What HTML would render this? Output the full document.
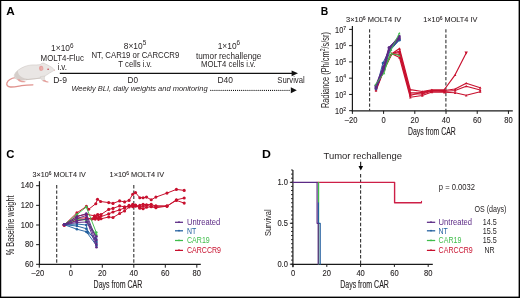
<!DOCTYPE html><html><head><meta charset="utf-8"><title>Figure</title><style>
html,body{margin:0;padding:0;background:#fff;width:520px;height:298px;overflow:hidden}
svg{display:block;will-change:transform}
text{font-family:"Liberation Sans",sans-serif}
</style></head><body>
<svg width="520" height="298" viewBox="0 0 520 298">
<rect x="0" y="0" width="520" height="298" fill="#000"/>
<rect x="1.25" y="1.0" width="517.35" height="295.6" fill="#fff"/>
<text x="6.3" y="14.6" font-size="11.3" text-anchor="start" font-weight="bold" font-style="normal" fill="#000" textLength="8.5" lengthAdjust="spacingAndGlyphs" >A</text>
<g>
<path d="M15.4,77.7 C11.5,78.2 8,80.4 6.9,83.1 C6.2,85.2 7.8,86.8 10.5,87.0 C14,87.2 18,86.2 21.5,85.6 C25.5,85.0 29.5,84.8 32.9,84.8" fill="none" stroke="#e0928d" stroke-width="1.3" stroke-linecap="round"/>
<path d="M54.6,70.0 C53,68.2 51.5,67 50.2,66.4 C48.5,65.4 47,64.6 45.9,64.3 C44.8,63.4 43.8,63.0 42.7,63.1 C41.8,63.2 41.2,63.7 40.6,64.3 C39,65.0 37,65.0 34,64.9 C30.5,64.9 27.5,65.4 24.5,66.6 C20,68.4 16.4,71.0 14.6,74.2 C13.8,76.2 14.4,78 16.2,79 C19,80.4 23,80.2 27,79.6 C31,79.1 35,78.8 38.8,78.4 C41,78.1 42.6,77.7 43.6,77.0 C45.6,75.6 47.6,74.4 49.3,73.2 C51.2,72.1 53,71.1 54.6,70.0 Z" fill="#e9e6e4" stroke="#cbc4c0" stroke-width="0.55"/>
<path d="M14.7,75 C14.5,77.6 16.5,79.4 19.5,80 C23.5,80.6 28,80 32,79.3 C28.5,79.2 25,78.6 22,77.2 C19.5,76 17.6,73.4 17.9,70.6 C16.3,71.8 15.1,73.3 14.7,75 Z" fill="#d5ceca"/>
<path d="M26,79.6 C31,79.2 35.5,78.8 40.5,78.0" fill="none" stroke="#c9c1bc" stroke-width="0.7"/>
<path d="M17,79.2 C18,80.8 19.6,81.8 21.8,82.2 C23.2,82.4 24.6,82.3 25.7,82.1 C25.7,81.5 24.8,81.1 23.6,81.0 C21.8,80.8 20.4,80.2 19.6,79.2 Z" fill="#e5a09c"/>
<path d="M40.4,76.6 C40.6,78.8 41.6,80.4 43.2,81.2 L45.4,80.8 C44.4,79.8 44.2,78.4 44.8,76.0 Z" fill="#e4e0dd" stroke="#cbc4c0" stroke-width="0.4"/>
<path d="M42.4,80.3 C43.6,81.6 45.4,82.4 47.5,82.6 C48.6,82.7 48.9,81.9 48.1,81.5 C46.9,81.0 45.7,80.7 44.9,79.9 Z" fill="#e5a09c"/>
<ellipse cx="41.2" cy="68.3" rx="2.2" ry="2.6" fill="#e6a29f" transform="rotate(-10 41.2 68.3)"/>
<ellipse cx="41.6" cy="68.6" rx="1.1" ry="1.6" fill="#eab2af" transform="rotate(-10 41.2 68.3)"/>
<circle cx="48.10" cy="69.20" r="0.78" fill="#c0303c"/>
<circle cx="54.40" cy="70.20" r="0.55" fill="#e8b0ae"/>
</g>
<text x="62.3" y="50.9" font-size="8.4" text-anchor="middle" font-weight="normal" font-style="normal" fill="#231f20" >1×10<tspan dy="-3.2" font-size="6.4">6</tspan><tspan dy="3.2"></tspan></text>
<text x="40.6" y="60.5" font-size="8.4" text-anchor="start" font-weight="normal" font-style="normal" fill="#231f20" textLength="43.4" lengthAdjust="spacingAndGlyphs" >MOLT4-Fluc</text>
<text x="57.4" y="69.5" font-size="8.4" text-anchor="start" font-weight="normal" font-style="normal" fill="#231f20" textLength="9.6" lengthAdjust="spacingAndGlyphs" >i.v.</text>
<text x="135.0" y="48.6" font-size="8.4" text-anchor="middle" font-weight="normal" font-style="normal" fill="#231f20" >8×10<tspan dy="-3.2" font-size="6.4">5</tspan><tspan dy="3.2"></tspan></text>
<text x="91.5" y="58.3" font-size="8.4" text-anchor="start" font-weight="normal" font-style="normal" fill="#231f20" textLength="87.8" lengthAdjust="spacingAndGlyphs" >NT, CAR19 or CARCCR9</text>
<text x="118.3" y="67.2" font-size="8.4" text-anchor="start" font-weight="normal" font-style="normal" fill="#231f20" textLength="33.7" lengthAdjust="spacingAndGlyphs" >T cells i.v.</text>
<text x="228.9" y="48.6" font-size="8.4" text-anchor="middle" font-weight="normal" font-style="normal" fill="#231f20" >1×10<tspan dy="-3.2" font-size="6.4">6</tspan><tspan dy="3.2"></tspan></text>
<text x="196.0" y="58.5" font-size="8.4" text-anchor="start" font-weight="normal" font-style="normal" fill="#231f20" textLength="65.3" lengthAdjust="spacingAndGlyphs" >tumor rechallenge</text>
<text x="201.1" y="67.2" font-size="8.4" text-anchor="start" font-weight="normal" font-style="normal" fill="#231f20" textLength="54.4" lengthAdjust="spacingAndGlyphs" >MOLT4 cells i.v.</text>
<line x1="59.8" y1="73.3" x2="292.5" y2="73.3" stroke="#111" stroke-width="1.3" />
<path d="M291.6,70.4 L298.0,73.3 L291.6,76.2 Z" fill="#111"/>
<text x="53.2" y="82.7" font-size="8.4" text-anchor="start" font-weight="normal" font-style="normal" fill="#231f20" textLength="13.8" lengthAdjust="spacingAndGlyphs" >D-9</text>
<text x="127.5" y="82.8" font-size="8.4" text-anchor="start" font-weight="normal" font-style="normal" fill="#231f20" textLength="10.5" lengthAdjust="spacingAndGlyphs" >D0</text>
<text x="217.4" y="82.7" font-size="8.4" text-anchor="start" font-weight="normal" font-style="normal" fill="#231f20" textLength="15.5" lengthAdjust="spacingAndGlyphs" >D40</text>
<text x="277.3" y="82.7" font-size="8.4" text-anchor="start" font-weight="normal" font-style="normal" fill="#231f20" textLength="27.4" lengthAdjust="spacingAndGlyphs" >Survival</text>
<text x="71.4" y="91.4" font-size="7.5" text-anchor="start" font-weight="normal" font-style="italic" fill="#231f20" textLength="136.2" lengthAdjust="spacingAndGlyphs" >Weekly BLI, daily weights and monitoring</text>
<line x1="210.8" y1="90.4" x2="291.0" y2="90.4" stroke="#111" stroke-width="1.15" stroke-dasharray="0.01 2.05" stroke-linecap="round"/>
<path d="M290.8,87.3 L296.8,90.3 L290.8,93.3 Z" fill="#111"/>
<text x="320.7" y="14.8" font-size="11.4" text-anchor="start" font-weight="bold" font-style="normal" fill="#000" textLength="7.5" lengthAdjust="spacingAndGlyphs" >B</text>
<line x1="352.4" y1="26.0" x2="352.4" y2="111.39999999999999" stroke="#1a1a1a" stroke-width="1.2" />
<line x1="351.79999999999995" y1="110.8" x2="512.8" y2="110.8" stroke="#1a1a1a" stroke-width="1.2" />
<line x1="349.1" y1="110.7" x2="352.4" y2="110.7" stroke="#1a1a1a" stroke-width="1.0" />
<text x="335.1" y="114.10000000000001" font-size="8.8" text-anchor="start" font-weight="normal" font-style="normal" fill="#231f20" textLength="11.0" lengthAdjust="spacingAndGlyphs"  stroke="#231f20" stroke-width="0.12">10<tspan dy="-3.2" font-size="6.0">2</tspan></text>
<line x1="349.1" y1="94.44" x2="352.4" y2="94.44" stroke="#1a1a1a" stroke-width="1.0" />
<text x="335.1" y="97.84" font-size="8.8" text-anchor="start" font-weight="normal" font-style="normal" fill="#231f20" textLength="11.0" lengthAdjust="spacingAndGlyphs"  stroke="#231f20" stroke-width="0.12">10<tspan dy="-3.2" font-size="6.0">3</tspan></text>
<line x1="349.1" y1="78.18" x2="352.4" y2="78.18" stroke="#1a1a1a" stroke-width="1.0" />
<text x="335.1" y="81.58000000000001" font-size="8.8" text-anchor="start" font-weight="normal" font-style="normal" fill="#231f20" textLength="11.0" lengthAdjust="spacingAndGlyphs"  stroke="#231f20" stroke-width="0.12">10<tspan dy="-3.2" font-size="6.0">4</tspan></text>
<line x1="349.1" y1="61.92" x2="352.4" y2="61.92" stroke="#1a1a1a" stroke-width="1.0" />
<text x="335.1" y="65.32000000000001" font-size="8.8" text-anchor="start" font-weight="normal" font-style="normal" fill="#231f20" textLength="11.0" lengthAdjust="spacingAndGlyphs"  stroke="#231f20" stroke-width="0.12">10<tspan dy="-3.2" font-size="6.0">5</tspan></text>
<line x1="349.1" y1="45.66" x2="352.4" y2="45.66" stroke="#1a1a1a" stroke-width="1.0" />
<text x="335.1" y="49.059999999999995" font-size="8.8" text-anchor="start" font-weight="normal" font-style="normal" fill="#231f20" textLength="11.0" lengthAdjust="spacingAndGlyphs"  stroke="#231f20" stroke-width="0.12">10<tspan dy="-3.2" font-size="6.0">6</tspan></text>
<line x1="349.1" y1="29.39999999999999" x2="352.4" y2="29.39999999999999" stroke="#1a1a1a" stroke-width="1.0" />
<text x="335.1" y="32.79999999999999" font-size="8.8" text-anchor="start" font-weight="normal" font-style="normal" fill="#231f20" textLength="11.0" lengthAdjust="spacingAndGlyphs"  stroke="#231f20" stroke-width="0.12">10<tspan dy="-3.2" font-size="6.0">7</tspan></text>
<line x1="352.39000000000004" y1="110.8" x2="352.39000000000004" y2="113.9" stroke="#1a1a1a" stroke-width="1.0" />
<text x="351.09000000000003" y="122.8" font-size="8.8" text-anchor="middle" font-weight="normal" font-style="normal" fill="#231f20" textLength="12.63" lengthAdjust="spacingAndGlyphs"  stroke="#231f20" stroke-width="0.12">–20</text>
<line x1="383.6" y1="110.8" x2="383.6" y2="113.9" stroke="#1a1a1a" stroke-width="1.0" />
<text x="383.6" y="122.8" font-size="8.8" text-anchor="middle" font-weight="normal" font-style="normal" fill="#231f20" textLength="4.21" lengthAdjust="spacingAndGlyphs"  stroke="#231f20" stroke-width="0.12">0</text>
<line x1="414.81" y1="110.8" x2="414.81" y2="113.9" stroke="#1a1a1a" stroke-width="1.0" />
<text x="414.81" y="122.8" font-size="8.8" text-anchor="middle" font-weight="normal" font-style="normal" fill="#231f20" textLength="8.42" lengthAdjust="spacingAndGlyphs"  stroke="#231f20" stroke-width="0.12">20</text>
<line x1="446.02000000000004" y1="110.8" x2="446.02000000000004" y2="113.9" stroke="#1a1a1a" stroke-width="1.0" />
<text x="446.02000000000004" y="122.8" font-size="8.8" text-anchor="middle" font-weight="normal" font-style="normal" fill="#231f20" textLength="8.42" lengthAdjust="spacingAndGlyphs"  stroke="#231f20" stroke-width="0.12">40</text>
<line x1="477.23" y1="110.8" x2="477.23" y2="113.9" stroke="#1a1a1a" stroke-width="1.0" />
<text x="477.23" y="122.8" font-size="8.8" text-anchor="middle" font-weight="normal" font-style="normal" fill="#231f20" textLength="8.42" lengthAdjust="spacingAndGlyphs"  stroke="#231f20" stroke-width="0.12">60</text>
<line x1="508.44000000000005" y1="110.8" x2="508.44000000000005" y2="113.9" stroke="#1a1a1a" stroke-width="1.0" />
<text x="508.44000000000005" y="122.8" font-size="8.8" text-anchor="middle" font-weight="normal" font-style="normal" fill="#231f20" textLength="8.42" lengthAdjust="spacingAndGlyphs"  stroke="#231f20" stroke-width="0.12">80</text>
<text x="408.0" y="135.3" font-size="10.8" text-anchor="start" font-weight="normal" font-style="normal" fill="#231f20" textLength="47.8" lengthAdjust="spacingAndGlyphs"  stroke="#231f20" stroke-width="0.12">Days from CAR</text>
<text transform="translate(328.9,70.1) rotate(-90)" font-size="10" text-anchor="middle" fill="#231f20" textLength="76" lengthAdjust="spacingAndGlyphs">Radiance (Ph/cm<tspan dy="-3.6" font-size="6.8">2</tspan><tspan dy="3.6">/s/sr)</tspan></text>
<text x="346.0" y="22.3" font-size="7.4" text-anchor="start" font-weight="normal" font-style="normal" fill="#231f20" textLength="55.3" lengthAdjust="spacingAndGlyphs"  stroke="#231f20" stroke-width="0.08">3×10<tspan dy="-2.6" font-size="5">6</tspan><tspan dy="2.6"> MOLT4 IV</tspan></text>
<text x="423.2" y="22.3" font-size="7.4" text-anchor="start" font-weight="normal" font-style="normal" fill="#231f20" textLength="54.2" lengthAdjust="spacingAndGlyphs"  stroke="#231f20" stroke-width="0.08">1×10<tspan dy="-2.6" font-size="5">6</tspan><tspan dy="2.6"> MOLT4 IV</tspan></text>
<line x1="369.6" y1="29.2" x2="369.6" y2="110.8" stroke="#333" stroke-width="1.1" stroke-dasharray="3.4 1.9"/>
<line x1="445.9" y1="29.2" x2="445.9" y2="110.8" stroke="#333" stroke-width="1.1" stroke-dasharray="3.4 1.9"/>
<polyline points="376.00,90.50 384.00,70.00 391.80,53.70 399.50,48.50 410.30,89.60 422.30,91.50 431.90,89.80 444.40,89.50 455.10,74.80 466.20,53.00" fill="none" stroke="#c8102e" stroke-width="1.15" stroke-linejoin="round" stroke-linecap="round" />
<polyline points="376.00,89.00 384.00,69.00 391.80,53.70 399.50,51.00 410.30,92.50 422.30,93.00 431.90,90.50 444.40,90.50 455.10,89.00 466.20,83.20 480.20,87.70" fill="none" stroke="#c8102e" stroke-width="1.15" stroke-linejoin="round" stroke-linecap="round" />
<polyline points="376.00,88.00 384.00,68.00 391.80,53.70 399.50,54.50 410.30,94.00 422.30,94.00 431.90,91.00 444.40,91.50 455.10,90.50 466.20,86.20 480.20,90.00" fill="none" stroke="#c8102e" stroke-width="1.15" stroke-linejoin="round" stroke-linecap="round" />
<polyline points="376.00,87.00 384.00,67.00 391.80,53.70 399.50,57.50 410.30,97.30 422.30,95.50 431.90,92.00 444.40,92.30 455.10,92.80 466.20,95.30 480.20,91.70" fill="none" stroke="#c8102e" stroke-width="1.15" stroke-linejoin="round" stroke-linecap="round" />
<polyline points="376.00,89.00 384.00,69.00 391.80,53.70 399.50,52.50 410.30,95.50 422.30,92.00 431.90,90.50 444.40,91.00" fill="none" stroke="#c8102e" stroke-width="1.15" stroke-linejoin="round" stroke-linecap="round" />
<path d="M374.70,91.67 L377.30,91.67 L376.00,89.33Z" fill="#c8102e"/>
<path d="M382.70,71.17 L385.30,71.17 L384.00,68.83Z" fill="#c8102e"/>
<path d="M390.50,54.87 L393.10,54.87 L391.80,52.53Z" fill="#c8102e"/>
<path d="M398.20,49.67 L400.80,49.67 L399.50,47.33Z" fill="#c8102e"/>
<path d="M409.00,90.77 L411.60,90.77 L410.30,88.43Z" fill="#c8102e"/>
<path d="M421.00,92.67 L423.60,92.67 L422.30,90.33Z" fill="#c8102e"/>
<path d="M430.60,90.97 L433.20,90.97 L431.90,88.63Z" fill="#c8102e"/>
<path d="M443.10,90.67 L445.70,90.67 L444.40,88.33Z" fill="#c8102e"/>
<path d="M453.80,75.97 L456.40,75.97 L455.10,73.63Z" fill="#c8102e"/>
<path d="M464.50,51.47 L467.90,51.47 L466.20,54.53Z" fill="#c8102e"/>
<path d="M374.70,90.17 L377.30,90.17 L376.00,87.83Z" fill="#c8102e"/>
<path d="M382.70,70.17 L385.30,70.17 L384.00,67.83Z" fill="#c8102e"/>
<path d="M390.50,54.87 L393.10,54.87 L391.80,52.53Z" fill="#c8102e"/>
<path d="M398.20,52.17 L400.80,52.17 L399.50,49.83Z" fill="#c8102e"/>
<path d="M409.00,93.67 L411.60,93.67 L410.30,91.33Z" fill="#c8102e"/>
<path d="M421.00,94.17 L423.60,94.17 L422.30,91.83Z" fill="#c8102e"/>
<path d="M430.60,91.67 L433.20,91.67 L431.90,89.33Z" fill="#c8102e"/>
<path d="M443.10,91.67 L445.70,91.67 L444.40,89.33Z" fill="#c8102e"/>
<path d="M453.80,90.17 L456.40,90.17 L455.10,87.83Z" fill="#c8102e"/>
<path d="M464.90,84.37 L467.50,84.37 L466.20,82.03Z" fill="#c8102e"/>
<path d="M478.90,88.87 L481.50,88.87 L480.20,86.53Z" fill="#c8102e"/>
<path d="M374.70,89.17 L377.30,89.17 L376.00,86.83Z" fill="#c8102e"/>
<path d="M382.70,69.17 L385.30,69.17 L384.00,66.83Z" fill="#c8102e"/>
<path d="M390.50,54.87 L393.10,54.87 L391.80,52.53Z" fill="#c8102e"/>
<path d="M398.20,55.67 L400.80,55.67 L399.50,53.33Z" fill="#c8102e"/>
<path d="M409.00,95.17 L411.60,95.17 L410.30,92.83Z" fill="#c8102e"/>
<path d="M421.00,95.17 L423.60,95.17 L422.30,92.83Z" fill="#c8102e"/>
<path d="M430.60,92.17 L433.20,92.17 L431.90,89.83Z" fill="#c8102e"/>
<path d="M443.10,92.67 L445.70,92.67 L444.40,90.33Z" fill="#c8102e"/>
<path d="M453.80,91.67 L456.40,91.67 L455.10,89.33Z" fill="#c8102e"/>
<path d="M464.90,87.37 L467.50,87.37 L466.20,85.03Z" fill="#c8102e"/>
<path d="M478.90,91.17 L481.50,91.17 L480.20,88.83Z" fill="#c8102e"/>
<path d="M374.70,88.17 L377.30,88.17 L376.00,85.83Z" fill="#c8102e"/>
<path d="M382.70,68.17 L385.30,68.17 L384.00,65.83Z" fill="#c8102e"/>
<path d="M390.50,54.87 L393.10,54.87 L391.80,52.53Z" fill="#c8102e"/>
<path d="M398.20,58.67 L400.80,58.67 L399.50,56.33Z" fill="#c8102e"/>
<path d="M409.00,98.47 L411.60,98.47 L410.30,96.13Z" fill="#c8102e"/>
<path d="M421.00,96.67 L423.60,96.67 L422.30,94.33Z" fill="#c8102e"/>
<path d="M430.60,93.17 L433.20,93.17 L431.90,90.83Z" fill="#c8102e"/>
<path d="M443.10,93.47 L445.70,93.47 L444.40,91.13Z" fill="#c8102e"/>
<path d="M453.80,93.97 L456.40,93.97 L455.10,91.63Z" fill="#c8102e"/>
<path d="M464.90,96.47 L467.50,96.47 L466.20,94.13Z" fill="#c8102e"/>
<path d="M478.90,92.87 L481.50,92.87 L480.20,90.53Z" fill="#c8102e"/>
<path d="M374.70,90.17 L377.30,90.17 L376.00,87.83Z" fill="#c8102e"/>
<path d="M382.70,70.17 L385.30,70.17 L384.00,67.83Z" fill="#c8102e"/>
<path d="M390.50,54.87 L393.10,54.87 L391.80,52.53Z" fill="#c8102e"/>
<path d="M398.20,53.67 L400.80,53.67 L399.50,51.33Z" fill="#c8102e"/>
<path d="M409.00,96.67 L411.60,96.67 L410.30,94.33Z" fill="#c8102e"/>
<path d="M421.00,93.17 L423.60,93.17 L422.30,90.83Z" fill="#c8102e"/>
<path d="M430.60,91.67 L433.20,91.67 L431.90,89.33Z" fill="#c8102e"/>
<path d="M443.10,92.17 L445.70,92.17 L444.40,89.83Z" fill="#c8102e"/>
<polyline points="376.00,86.00 384.00,70.00 391.80,53.70 399.50,55.50" fill="none" stroke="#3fbd4b" stroke-width="1.0" stroke-linejoin="round" stroke-linecap="round" />
<path d="M374.80,87.08 L377.20,87.08 L376.00,84.92Z" fill="#3fbd4b"/>
<path d="M382.80,71.08 L385.20,71.08 L384.00,68.92Z" fill="#3fbd4b"/>
<path d="M390.60,54.78 L393.00,54.78 L391.80,52.62Z" fill="#3fbd4b"/>
<path d="M398.30,56.58 L400.70,56.58 L399.50,54.42Z" fill="#3fbd4b"/>
<polyline points="376.00,89.00 382.90,63.00 389.60,49.60 399.40,39.50" fill="none" stroke="#23609f" stroke-width="1.0" stroke-linejoin="round" stroke-linecap="round" />
<polyline points="376.00,88.00 384.00,69.50 390.20,50.20 399.40,40.20" fill="none" stroke="#23609f" stroke-width="1.0" stroke-linejoin="round" stroke-linecap="round" />
<circle cx="376.00" cy="89.00" r="1.3" fill="#23609f"/>
<circle cx="382.90" cy="63.00" r="1.3" fill="#23609f"/>
<circle cx="389.60" cy="49.60" r="1.3" fill="#23609f"/>
<circle cx="399.40" cy="39.50" r="1.3" fill="#23609f"/>
<circle cx="376.00" cy="88.00" r="1.3" fill="#23609f"/>
<circle cx="384.00" cy="69.50" r="1.3" fill="#23609f"/>
<circle cx="390.20" cy="50.20" r="1.3" fill="#23609f"/>
<circle cx="399.40" cy="40.20" r="1.3" fill="#23609f"/>
<polyline points="376.00,86.50 383.50,67.50 389.10,47.80 399.30,37.00" fill="none" stroke="#5c2a85" stroke-width="1.2" stroke-linejoin="round" stroke-linecap="round" />
<polyline points="376.00,87.50 383.70,68.30 389.30,48.30 399.30,36.00" fill="none" stroke="#5c2a85" stroke-width="1.2" stroke-linejoin="round" stroke-linecap="round" />
<polyline points="375.80,85.50 383.30,66.80 389.00,47.50 399.30,38.00" fill="none" stroke="#5c2a85" stroke-width="1.2" stroke-linejoin="round" stroke-linecap="round" />
<polyline points="376.00,88.50 383.90,69.20 389.50,48.80 399.30,38.80" fill="none" stroke="#5c2a85" stroke-width="1.2" stroke-linejoin="round" stroke-linecap="round" />
<circle cx="376.00" cy="86.50" r="1.35" fill="#5c2a85"/>
<circle cx="383.50" cy="67.50" r="1.35" fill="#5c2a85"/>
<circle cx="389.10" cy="47.80" r="1.35" fill="#5c2a85"/>
<circle cx="399.30" cy="37.00" r="1.35" fill="#5c2a85"/>
<circle cx="376.00" cy="87.50" r="1.35" fill="#5c2a85"/>
<circle cx="383.70" cy="68.30" r="1.35" fill="#5c2a85"/>
<circle cx="389.30" cy="48.30" r="1.35" fill="#5c2a85"/>
<circle cx="399.30" cy="36.00" r="1.35" fill="#5c2a85"/>
<circle cx="375.80" cy="85.50" r="1.35" fill="#5c2a85"/>
<circle cx="383.30" cy="66.80" r="1.35" fill="#5c2a85"/>
<circle cx="389.00" cy="47.50" r="1.35" fill="#5c2a85"/>
<circle cx="399.30" cy="38.00" r="1.35" fill="#5c2a85"/>
<circle cx="376.00" cy="88.50" r="1.35" fill="#5c2a85"/>
<circle cx="383.90" cy="69.20" r="1.35" fill="#5c2a85"/>
<circle cx="389.50" cy="48.80" r="1.35" fill="#5c2a85"/>
<circle cx="399.30" cy="38.80" r="1.35" fill="#5c2a85"/>
<polyline points="375.50,84.50 384.10,73.10 391.20,49.50 399.30,33.20" fill="none" stroke="#3fbd4b" stroke-width="0.9" stroke-linejoin="round" stroke-linecap="round" />
<path d="M374.30,85.58 L376.70,85.58 L375.50,83.42Z" fill="#3fbd4b"/>
<path d="M382.90,74.18 L385.30,74.18 L384.10,72.02Z" fill="#3fbd4b"/>
<path d="M390.00,50.58 L392.40,50.58 L391.20,48.42Z" fill="#3fbd4b"/>
<path d="M398.10,34.28 L400.50,34.28 L399.30,32.12Z" fill="#3fbd4b"/>
<text x="6.2" y="158.0" font-size="11.7" text-anchor="start" font-weight="bold" font-style="normal" fill="#000" textLength="8.2" lengthAdjust="spacingAndGlyphs" >C</text>
<line x1="39.45" y1="181.2" x2="39.45" y2="265.05" stroke="#1a1a1a" stroke-width="1.2" />
<line x1="38.85" y1="264.45" x2="200.8" y2="264.45" stroke="#1a1a1a" stroke-width="1.2" />
<line x1="36.1" y1="264.3" x2="39.45" y2="264.3" stroke="#1a1a1a" stroke-width="1.0" />
<text x="33.5" y="267.05" font-size="8.8" text-anchor="end" font-weight="normal" font-style="normal" fill="#231f20" textLength="8.42" lengthAdjust="spacingAndGlyphs"  stroke="#231f20" stroke-width="0.12">60</text>
<line x1="36.1" y1="244.65" x2="39.45" y2="244.65" stroke="#1a1a1a" stroke-width="1.0" />
<text x="33.5" y="247.4" font-size="8.8" text-anchor="end" font-weight="normal" font-style="normal" fill="#231f20" textLength="8.42" lengthAdjust="spacingAndGlyphs"  stroke="#231f20" stroke-width="0.12">80</text>
<line x1="36.1" y1="225.0" x2="39.45" y2="225.0" stroke="#1a1a1a" stroke-width="1.0" />
<text x="33.5" y="227.75" font-size="8.8" text-anchor="end" font-weight="normal" font-style="normal" fill="#231f20" textLength="12.63" lengthAdjust="spacingAndGlyphs"  stroke="#231f20" stroke-width="0.12">100</text>
<line x1="36.1" y1="205.35000000000002" x2="39.45" y2="205.35000000000002" stroke="#1a1a1a" stroke-width="1.0" />
<text x="33.5" y="208.10000000000002" font-size="8.8" text-anchor="end" font-weight="normal" font-style="normal" fill="#231f20" textLength="12.63" lengthAdjust="spacingAndGlyphs"  stroke="#231f20" stroke-width="0.12">120</text>
<line x1="36.1" y1="185.7" x2="39.45" y2="185.7" stroke="#1a1a1a" stroke-width="1.0" />
<text x="33.5" y="188.45" font-size="8.8" text-anchor="end" font-weight="normal" font-style="normal" fill="#231f20" textLength="12.63" lengthAdjust="spacingAndGlyphs"  stroke="#231f20" stroke-width="0.12">140</text>
<line x1="39.3" y1="264.45" x2="39.3" y2="267.7" stroke="#1a1a1a" stroke-width="1.0" />
<text x="37.8" y="276.4" font-size="8.8" text-anchor="middle" font-weight="normal" font-style="normal" fill="#231f20" textLength="12.63" lengthAdjust="spacingAndGlyphs"  stroke="#231f20" stroke-width="0.12">–20</text>
<line x1="70.8" y1="264.45" x2="70.8" y2="267.7" stroke="#1a1a1a" stroke-width="1.0" />
<text x="70.8" y="276.4" font-size="8.8" text-anchor="middle" font-weight="normal" font-style="normal" fill="#231f20" textLength="4.21" lengthAdjust="spacingAndGlyphs"  stroke="#231f20" stroke-width="0.12">0</text>
<line x1="102.3" y1="264.45" x2="102.3" y2="267.7" stroke="#1a1a1a" stroke-width="1.0" />
<text x="102.3" y="276.4" font-size="8.8" text-anchor="middle" font-weight="normal" font-style="normal" fill="#231f20" textLength="8.42" lengthAdjust="spacingAndGlyphs"  stroke="#231f20" stroke-width="0.12">20</text>
<line x1="133.8" y1="264.45" x2="133.8" y2="267.7" stroke="#1a1a1a" stroke-width="1.0" />
<text x="133.8" y="276.4" font-size="8.8" text-anchor="middle" font-weight="normal" font-style="normal" fill="#231f20" textLength="8.42" lengthAdjust="spacingAndGlyphs"  stroke="#231f20" stroke-width="0.12">40</text>
<line x1="165.3" y1="264.45" x2="165.3" y2="267.7" stroke="#1a1a1a" stroke-width="1.0" />
<text x="165.3" y="276.4" font-size="8.8" text-anchor="middle" font-weight="normal" font-style="normal" fill="#231f20" textLength="8.42" lengthAdjust="spacingAndGlyphs"  stroke="#231f20" stroke-width="0.12">60</text>
<line x1="196.8" y1="264.45" x2="196.8" y2="267.7" stroke="#1a1a1a" stroke-width="1.0" />
<text x="196.8" y="276.4" font-size="8.8" text-anchor="middle" font-weight="normal" font-style="normal" fill="#231f20" textLength="8.42" lengthAdjust="spacingAndGlyphs"  stroke="#231f20" stroke-width="0.12">80</text>
<text x="93.6" y="288.4" font-size="10.8" text-anchor="start" font-weight="normal" font-style="normal" fill="#231f20" textLength="48.7" lengthAdjust="spacingAndGlyphs"  stroke="#231f20" stroke-width="0.12">Days from CAR</text>
<text transform="translate(14.4,225.4) rotate(-90)" font-size="10" text-anchor="middle" fill="#231f20" textLength="59.8" lengthAdjust="spacingAndGlyphs">% Baseline weight</text>
<text x="32.6" y="177.2" font-size="7.4" text-anchor="start" font-weight="normal" font-style="normal" fill="#231f20" textLength="53.1" lengthAdjust="spacingAndGlyphs"  stroke="#231f20" stroke-width="0.08">3×10<tspan dy="-2.6" font-size="5">6</tspan><tspan dy="2.6"> MOLT4 IV</tspan></text>
<text x="109.6" y="177.2" font-size="7.4" text-anchor="start" font-weight="normal" font-style="normal" fill="#231f20" textLength="54.5" lengthAdjust="spacingAndGlyphs"  stroke="#231f20" stroke-width="0.08">1×10<tspan dy="-2.6" font-size="5">6</tspan><tspan dy="2.6"> MOLT4 IV</tspan></text>
<line x1="56.7" y1="185.1" x2="56.7" y2="264.45" stroke="#333" stroke-width="1.1" stroke-dasharray="3.4 1.9"/>
<line x1="133.8" y1="185.1" x2="133.8" y2="264.45" stroke="#333" stroke-width="1.1" stroke-dasharray="3.4 1.9"/>
<polyline points="64.20,225.00 76.90,212.90 86.40,206.40 88.60,209.30 95.80,203.70 97.50,199.30 100.60,201.50 108.70,202.60 113.00,203.40 119.60,200.90 124.60,201.90 129.10,200.40 132.70,194.30 135.50,192.60 139.80,197.70 143.10,197.70 146.50,197.10 151.20,199.80 155.90,197.10 167.00,193.10 176.40,189.40 184.20,190.40" fill="none" stroke="#c8102e" stroke-width="1.0" stroke-linejoin="round" stroke-linecap="round" />
<polyline points="64.20,225.00 76.90,216.30 86.30,214.30 94.60,215.80 97.60,214.80 101.00,214.50 108.70,209.40 113.00,208.40 119.60,205.90 124.60,206.90 129.10,206.40 132.70,205.30 135.50,205.10 139.80,207.30 143.10,206.30 146.50,205.30 151.20,206.30 155.90,205.80 167.00,206.10 176.40,199.80 184.20,198.00" fill="none" stroke="#c8102e" stroke-width="1.0" stroke-linejoin="round" stroke-linecap="round" />
<polyline points="64.20,225.00 76.90,218.30 86.30,217.90 92.00,219.00 95.00,216.30 99.00,217.30 108.70,213.90 113.00,212.00 119.60,209.90 124.60,207.90 129.10,205.30 132.70,206.80 135.50,206.30 139.80,205.30 143.10,204.30 146.50,204.80 151.20,204.30 155.90,206.30 167.00,206.10 176.40,200.40 184.20,203.10" fill="none" stroke="#c8102e" stroke-width="1.0" stroke-linejoin="round" stroke-linecap="round" />
<polyline points="64.20,225.00 76.90,220.30 86.30,219.30 95.00,218.30 101.00,218.80 108.70,217.00 113.00,217.50 119.60,213.50 124.60,210.90 129.10,206.90 132.70,204.30 135.50,205.30 139.80,208.30 143.10,208.80 146.50,207.30 151.20,206.80 155.90,207.80 167.00,206.10" fill="none" stroke="#c8102e" stroke-width="1.0" stroke-linejoin="round" stroke-linecap="round" />
<circle cx="64.20" cy="225.00" r="1.55" fill="#c8102e"/>
<circle cx="76.90" cy="212.90" r="1.55" fill="#c8102e"/>
<circle cx="86.40" cy="206.40" r="1.55" fill="#c8102e"/>
<circle cx="88.60" cy="209.30" r="1.55" fill="#c8102e"/>
<circle cx="95.80" cy="203.70" r="1.55" fill="#c8102e"/>
<circle cx="97.50" cy="199.30" r="1.55" fill="#c8102e"/>
<circle cx="100.60" cy="201.50" r="1.55" fill="#c8102e"/>
<circle cx="108.70" cy="202.60" r="1.55" fill="#c8102e"/>
<circle cx="113.00" cy="203.40" r="1.55" fill="#c8102e"/>
<circle cx="119.60" cy="200.90" r="1.55" fill="#c8102e"/>
<circle cx="124.60" cy="201.90" r="1.55" fill="#c8102e"/>
<circle cx="129.10" cy="200.40" r="1.55" fill="#c8102e"/>
<circle cx="132.70" cy="194.30" r="1.55" fill="#c8102e"/>
<circle cx="135.50" cy="192.60" r="1.55" fill="#c8102e"/>
<circle cx="139.80" cy="197.70" r="1.55" fill="#c8102e"/>
<circle cx="143.10" cy="197.70" r="1.55" fill="#c8102e"/>
<circle cx="146.50" cy="197.10" r="1.55" fill="#c8102e"/>
<circle cx="151.20" cy="199.80" r="1.55" fill="#c8102e"/>
<circle cx="155.90" cy="197.10" r="1.55" fill="#c8102e"/>
<circle cx="167.00" cy="193.10" r="1.55" fill="#c8102e"/>
<circle cx="176.40" cy="189.40" r="1.55" fill="#c8102e"/>
<circle cx="184.20" cy="190.40" r="1.55" fill="#c8102e"/>
<circle cx="64.20" cy="225.00" r="1.55" fill="#c8102e"/>
<circle cx="76.90" cy="216.30" r="1.55" fill="#c8102e"/>
<circle cx="86.30" cy="214.30" r="1.55" fill="#c8102e"/>
<circle cx="94.60" cy="215.80" r="1.55" fill="#c8102e"/>
<circle cx="97.60" cy="214.80" r="1.55" fill="#c8102e"/>
<circle cx="101.00" cy="214.50" r="1.55" fill="#c8102e"/>
<circle cx="108.70" cy="209.40" r="1.55" fill="#c8102e"/>
<circle cx="113.00" cy="208.40" r="1.55" fill="#c8102e"/>
<circle cx="119.60" cy="205.90" r="1.55" fill="#c8102e"/>
<circle cx="124.60" cy="206.90" r="1.55" fill="#c8102e"/>
<circle cx="129.10" cy="206.40" r="1.55" fill="#c8102e"/>
<circle cx="132.70" cy="205.30" r="1.55" fill="#c8102e"/>
<circle cx="135.50" cy="205.10" r="1.55" fill="#c8102e"/>
<circle cx="139.80" cy="207.30" r="1.55" fill="#c8102e"/>
<circle cx="143.10" cy="206.30" r="1.55" fill="#c8102e"/>
<circle cx="146.50" cy="205.30" r="1.55" fill="#c8102e"/>
<circle cx="151.20" cy="206.30" r="1.55" fill="#c8102e"/>
<circle cx="155.90" cy="205.80" r="1.55" fill="#c8102e"/>
<circle cx="167.00" cy="206.10" r="1.55" fill="#c8102e"/>
<circle cx="176.40" cy="199.80" r="1.55" fill="#c8102e"/>
<circle cx="184.20" cy="198.00" r="1.55" fill="#c8102e"/>
<circle cx="64.20" cy="225.00" r="1.55" fill="#c8102e"/>
<circle cx="76.90" cy="218.30" r="1.55" fill="#c8102e"/>
<circle cx="86.30" cy="217.90" r="1.55" fill="#c8102e"/>
<circle cx="92.00" cy="219.00" r="1.55" fill="#c8102e"/>
<circle cx="95.00" cy="216.30" r="1.55" fill="#c8102e"/>
<circle cx="99.00" cy="217.30" r="1.55" fill="#c8102e"/>
<circle cx="108.70" cy="213.90" r="1.55" fill="#c8102e"/>
<circle cx="113.00" cy="212.00" r="1.55" fill="#c8102e"/>
<circle cx="119.60" cy="209.90" r="1.55" fill="#c8102e"/>
<circle cx="124.60" cy="207.90" r="1.55" fill="#c8102e"/>
<circle cx="129.10" cy="205.30" r="1.55" fill="#c8102e"/>
<circle cx="132.70" cy="206.80" r="1.55" fill="#c8102e"/>
<circle cx="135.50" cy="206.30" r="1.55" fill="#c8102e"/>
<circle cx="139.80" cy="205.30" r="1.55" fill="#c8102e"/>
<circle cx="143.10" cy="204.30" r="1.55" fill="#c8102e"/>
<circle cx="146.50" cy="204.80" r="1.55" fill="#c8102e"/>
<circle cx="151.20" cy="204.30" r="1.55" fill="#c8102e"/>
<circle cx="155.90" cy="206.30" r="1.55" fill="#c8102e"/>
<circle cx="167.00" cy="206.10" r="1.55" fill="#c8102e"/>
<circle cx="176.40" cy="200.40" r="1.55" fill="#c8102e"/>
<circle cx="184.20" cy="203.10" r="1.55" fill="#c8102e"/>
<circle cx="64.20" cy="225.00" r="1.55" fill="#c8102e"/>
<circle cx="76.90" cy="220.30" r="1.55" fill="#c8102e"/>
<circle cx="86.30" cy="219.30" r="1.55" fill="#c8102e"/>
<circle cx="95.00" cy="218.30" r="1.55" fill="#c8102e"/>
<circle cx="101.00" cy="218.80" r="1.55" fill="#c8102e"/>
<circle cx="108.70" cy="217.00" r="1.55" fill="#c8102e"/>
<circle cx="113.00" cy="217.50" r="1.55" fill="#c8102e"/>
<circle cx="119.60" cy="213.50" r="1.55" fill="#c8102e"/>
<circle cx="124.60" cy="210.90" r="1.55" fill="#c8102e"/>
<circle cx="129.10" cy="206.90" r="1.55" fill="#c8102e"/>
<circle cx="132.70" cy="204.30" r="1.55" fill="#c8102e"/>
<circle cx="135.50" cy="205.30" r="1.55" fill="#c8102e"/>
<circle cx="139.80" cy="208.30" r="1.55" fill="#c8102e"/>
<circle cx="143.10" cy="208.80" r="1.55" fill="#c8102e"/>
<circle cx="146.50" cy="207.30" r="1.55" fill="#c8102e"/>
<circle cx="151.20" cy="206.80" r="1.55" fill="#c8102e"/>
<circle cx="155.90" cy="207.80" r="1.55" fill="#c8102e"/>
<circle cx="167.00" cy="206.10" r="1.55" fill="#c8102e"/>
<polyline points="64.20,224.70 76.90,214.60 86.30,207.00 96.30,232.60" fill="none" stroke="#3fbd4b" stroke-width="0.95" stroke-linejoin="round" stroke-linecap="round" />
<polyline points="64.20,224.70 76.90,219.00 86.30,220.00 96.30,235.00" fill="none" stroke="#3fbd4b" stroke-width="0.95" stroke-linejoin="round" stroke-linecap="round" />
<circle cx="64.20" cy="224.70" r="1.3" fill="#3fbd4b"/>
<circle cx="76.90" cy="214.60" r="1.3" fill="#3fbd4b"/>
<circle cx="86.30" cy="207.00" r="1.3" fill="#3fbd4b"/>
<circle cx="96.30" cy="232.60" r="1.3" fill="#3fbd4b"/>
<circle cx="64.20" cy="224.70" r="1.3" fill="#3fbd4b"/>
<circle cx="76.90" cy="219.00" r="1.3" fill="#3fbd4b"/>
<circle cx="86.30" cy="220.00" r="1.3" fill="#3fbd4b"/>
<circle cx="96.30" cy="235.00" r="1.3" fill="#3fbd4b"/>
<polyline points="64.20,224.70 76.90,226.00 86.30,228.70 96.50,242.00" fill="none" stroke="#23609f" stroke-width="0.95" stroke-linejoin="round" stroke-linecap="round" />
<polyline points="64.20,224.70 76.90,229.20 86.30,231.70 96.50,245.50" fill="none" stroke="#23609f" stroke-width="0.95" stroke-linejoin="round" stroke-linecap="round" />
<polyline points="64.20,224.70 76.90,224.00 86.30,225.00 87.60,232.60 96.00,238.50" fill="none" stroke="#23609f" stroke-width="0.95" stroke-linejoin="round" stroke-linecap="round" />
<circle cx="64.20" cy="224.70" r="1.3" fill="#23609f"/>
<circle cx="76.90" cy="226.00" r="1.3" fill="#23609f"/>
<circle cx="86.30" cy="228.70" r="1.3" fill="#23609f"/>
<circle cx="96.50" cy="242.00" r="1.3" fill="#23609f"/>
<circle cx="64.20" cy="224.70" r="1.3" fill="#23609f"/>
<circle cx="76.90" cy="229.20" r="1.3" fill="#23609f"/>
<circle cx="86.30" cy="231.70" r="1.3" fill="#23609f"/>
<circle cx="96.50" cy="245.50" r="1.3" fill="#23609f"/>
<circle cx="64.20" cy="224.70" r="1.3" fill="#23609f"/>
<circle cx="76.90" cy="224.00" r="1.3" fill="#23609f"/>
<circle cx="86.30" cy="225.00" r="1.3" fill="#23609f"/>
<circle cx="87.60" cy="232.60" r="1.3" fill="#23609f"/>
<circle cx="96.00" cy="238.50" r="1.3" fill="#23609f"/>
<polyline points="64.20,224.70 76.90,216.60 86.30,213.60 96.50,240.00" fill="none" stroke="#5c2a85" stroke-width="0.95" stroke-linejoin="round" stroke-linecap="round" />
<polyline points="64.20,224.70 76.90,218.50 86.30,215.50 96.50,244.00" fill="none" stroke="#5c2a85" stroke-width="0.95" stroke-linejoin="round" stroke-linecap="round" />
<polyline points="64.20,224.70 76.90,221.00 86.30,219.00 96.50,247.20" fill="none" stroke="#5c2a85" stroke-width="0.95" stroke-linejoin="round" stroke-linecap="round" />
<polyline points="64.20,224.70 76.90,222.50 86.30,222.00 96.50,236.50" fill="none" stroke="#5c2a85" stroke-width="0.95" stroke-linejoin="round" stroke-linecap="round" />
<circle cx="64.20" cy="224.70" r="1.3" fill="#5c2a85"/>
<circle cx="76.90" cy="216.60" r="1.3" fill="#5c2a85"/>
<circle cx="86.30" cy="213.60" r="1.3" fill="#5c2a85"/>
<circle cx="96.50" cy="240.00" r="1.3" fill="#5c2a85"/>
<circle cx="64.20" cy="224.70" r="1.3" fill="#5c2a85"/>
<circle cx="76.90" cy="218.50" r="1.3" fill="#5c2a85"/>
<circle cx="86.30" cy="215.50" r="1.3" fill="#5c2a85"/>
<circle cx="96.50" cy="244.00" r="1.3" fill="#5c2a85"/>
<circle cx="64.20" cy="224.70" r="1.3" fill="#5c2a85"/>
<circle cx="76.90" cy="221.00" r="1.3" fill="#5c2a85"/>
<circle cx="86.30" cy="219.00" r="1.3" fill="#5c2a85"/>
<circle cx="96.50" cy="247.20" r="1.3" fill="#5c2a85"/>
<circle cx="64.20" cy="224.70" r="1.3" fill="#5c2a85"/>
<circle cx="76.90" cy="222.50" r="1.3" fill="#5c2a85"/>
<circle cx="86.30" cy="222.00" r="1.3" fill="#5c2a85"/>
<circle cx="96.50" cy="236.50" r="1.3" fill="#5c2a85"/>
<circle cx="64.20" cy="224.70" r="1.5" fill="#5c2a85"/>
<circle cx="94.60" cy="216.20" r="1.45" fill="#c8102e"/>
<circle cx="96.20" cy="217.80" r="1.45" fill="#c8102e"/>
<circle cx="97.80" cy="214.80" r="1.45" fill="#c8102e"/>
<circle cx="99.20" cy="217.20" r="1.45" fill="#c8102e"/>
<circle cx="101.00" cy="216.00" r="1.45" fill="#c8102e"/>
<circle cx="95.20" cy="219.20" r="1.45" fill="#c8102e"/>
<circle cx="93.20" cy="218.60" r="1.45" fill="#c8102e"/>
<circle cx="98.50" cy="219.50" r="1.45" fill="#c8102e"/>
<line x1="175.0" y1="222.3" x2="183.0" y2="222.3" stroke="#5c2a85" stroke-width="1.25" />
<circle cx="179.00" cy="222.10" r="0.9" fill="#5c2a85"/>
<text x="187.0" y="224.8" font-size="8.8" text-anchor="start" font-weight="normal" font-style="normal" fill="#5c2a85" textLength="33.2" lengthAdjust="spacingAndGlyphs" >Untreated</text>
<line x1="175.0" y1="230.8" x2="183.0" y2="230.8" stroke="#23609f" stroke-width="1.25" />
<circle cx="179.00" cy="230.60" r="0.9" fill="#23609f"/>
<text x="187.0" y="233.9" font-size="8.8" text-anchor="start" font-weight="normal" font-style="normal" fill="#23609f" textLength="9.2" lengthAdjust="spacingAndGlyphs" >NT</text>
<line x1="175.0" y1="240.5" x2="183.0" y2="240.5" stroke="#3fbd4b" stroke-width="1.25" />
<circle cx="179.00" cy="240.30" r="0.9" fill="#3fbd4b"/>
<text x="187.0" y="242.9" font-size="8.8" text-anchor="start" font-weight="normal" font-style="normal" fill="#3fbd4b" textLength="22.8" lengthAdjust="spacingAndGlyphs" >CAR19</text>
<line x1="175.0" y1="250.4" x2="183.0" y2="250.4" stroke="#c8102e" stroke-width="1.25" />
<circle cx="179.00" cy="250.20" r="0.9" fill="#c8102e"/>
<text x="187.0" y="253.4" font-size="8.8" text-anchor="start" font-weight="normal" font-style="normal" fill="#c8102e" textLength="34" lengthAdjust="spacingAndGlyphs" >CARCCR9</text>
<text x="262.0" y="158.2" font-size="11.5" text-anchor="start" font-weight="bold" font-style="normal" fill="#000" textLength="8.9" lengthAdjust="spacingAndGlyphs" >D</text>
<line x1="292.9" y1="170.0" x2="292.9" y2="267.2" stroke="#1a1a1a" stroke-width="1.2" />
<line x1="292.29999999999995" y1="264.3" x2="432.8" y2="264.3" stroke="#1a1a1a" stroke-width="1.2" />
<line x1="291.0" y1="264.2" x2="292.9" y2="264.2" stroke="#1a1a1a" stroke-width="0.9" />
<line x1="291.0" y1="260.10499999999996" x2="292.9" y2="260.10499999999996" stroke="#1a1a1a" stroke-width="0.9" />
<line x1="291.0" y1="256.01" x2="292.9" y2="256.01" stroke="#1a1a1a" stroke-width="0.9" />
<line x1="291.0" y1="251.915" x2="292.9" y2="251.915" stroke="#1a1a1a" stroke-width="0.9" />
<line x1="291.0" y1="247.82" x2="292.9" y2="247.82" stroke="#1a1a1a" stroke-width="0.9" />
<line x1="291.0" y1="243.725" x2="292.9" y2="243.725" stroke="#1a1a1a" stroke-width="0.9" />
<line x1="291.0" y1="239.63" x2="292.9" y2="239.63" stroke="#1a1a1a" stroke-width="0.9" />
<line x1="291.0" y1="235.53499999999997" x2="292.9" y2="235.53499999999997" stroke="#1a1a1a" stroke-width="0.9" />
<line x1="291.0" y1="231.44" x2="292.9" y2="231.44" stroke="#1a1a1a" stroke-width="0.9" />
<line x1="291.0" y1="227.34499999999997" x2="292.9" y2="227.34499999999997" stroke="#1a1a1a" stroke-width="0.9" />
<line x1="291.0" y1="223.25" x2="292.9" y2="223.25" stroke="#1a1a1a" stroke-width="0.9" />
<line x1="291.0" y1="219.15499999999997" x2="292.9" y2="219.15499999999997" stroke="#1a1a1a" stroke-width="0.9" />
<line x1="291.0" y1="215.05999999999997" x2="292.9" y2="215.05999999999997" stroke="#1a1a1a" stroke-width="0.9" />
<line x1="291.0" y1="210.96499999999997" x2="292.9" y2="210.96499999999997" stroke="#1a1a1a" stroke-width="0.9" />
<line x1="291.0" y1="206.86999999999998" x2="292.9" y2="206.86999999999998" stroke="#1a1a1a" stroke-width="0.9" />
<line x1="291.0" y1="202.77499999999998" x2="292.9" y2="202.77499999999998" stroke="#1a1a1a" stroke-width="0.9" />
<line x1="291.0" y1="198.67999999999998" x2="292.9" y2="198.67999999999998" stroke="#1a1a1a" stroke-width="0.9" />
<line x1="291.0" y1="194.58499999999998" x2="292.9" y2="194.58499999999998" stroke="#1a1a1a" stroke-width="0.9" />
<line x1="291.0" y1="190.48999999999998" x2="292.9" y2="190.48999999999998" stroke="#1a1a1a" stroke-width="0.9" />
<line x1="291.0" y1="186.39499999999998" x2="292.9" y2="186.39499999999998" stroke="#1a1a1a" stroke-width="0.9" />
<line x1="291.0" y1="182.29999999999998" x2="292.9" y2="182.29999999999998" stroke="#1a1a1a" stroke-width="0.9" />
<line x1="291.0" y1="178.20499999999998" x2="292.9" y2="178.20499999999998" stroke="#1a1a1a" stroke-width="0.9" />
<line x1="291.0" y1="174.10999999999996" x2="292.9" y2="174.10999999999996" stroke="#1a1a1a" stroke-width="0.9" />
<line x1="291.0" y1="170.015" x2="292.9" y2="170.015" stroke="#1a1a1a" stroke-width="0.9" />
<line x1="289.9" y1="264.2" x2="292.9" y2="264.2" stroke="#1a1a1a" stroke-width="1.0" />
<text x="287.9" y="266.8" font-size="8.8" text-anchor="end" font-weight="normal" font-style="normal" fill="#231f20" textLength="10.52" lengthAdjust="spacingAndGlyphs"  stroke="#231f20" stroke-width="0.12">0.0</text>
<line x1="289.9" y1="223.25" x2="292.9" y2="223.25" stroke="#1a1a1a" stroke-width="1.0" />
<text x="287.9" y="225.85" font-size="8.8" text-anchor="end" font-weight="normal" font-style="normal" fill="#231f20" textLength="10.52" lengthAdjust="spacingAndGlyphs"  stroke="#231f20" stroke-width="0.12">0.5</text>
<line x1="289.9" y1="182.29999999999998" x2="292.9" y2="182.29999999999998" stroke="#1a1a1a" stroke-width="1.0" />
<text x="287.9" y="184.89999999999998" font-size="8.8" text-anchor="end" font-weight="normal" font-style="normal" fill="#231f20" textLength="10.52" lengthAdjust="spacingAndGlyphs"  stroke="#231f20" stroke-width="0.12">1.0</text>
<line x1="293.0" y1="264.3" x2="293.0" y2="266.9" stroke="#1a1a1a" stroke-width="1.0" />
<text x="293.0" y="276.3" font-size="8.8" text-anchor="middle" font-weight="normal" font-style="normal" fill="#231f20" textLength="4.21" lengthAdjust="spacingAndGlyphs"  stroke="#231f20" stroke-width="0.12">0</text>
<line x1="326.8" y1="264.3" x2="326.8" y2="266.9" stroke="#1a1a1a" stroke-width="1.0" />
<text x="326.8" y="276.3" font-size="8.8" text-anchor="middle" font-weight="normal" font-style="normal" fill="#231f20" textLength="8.42" lengthAdjust="spacingAndGlyphs"  stroke="#231f20" stroke-width="0.12">20</text>
<line x1="360.6" y1="264.3" x2="360.6" y2="266.9" stroke="#1a1a1a" stroke-width="1.0" />
<text x="360.6" y="276.3" font-size="8.8" text-anchor="middle" font-weight="normal" font-style="normal" fill="#231f20" textLength="8.42" lengthAdjust="spacingAndGlyphs"  stroke="#231f20" stroke-width="0.12">40</text>
<line x1="394.4" y1="264.3" x2="394.4" y2="266.9" stroke="#1a1a1a" stroke-width="1.0" />
<text x="394.4" y="276.3" font-size="8.8" text-anchor="middle" font-weight="normal" font-style="normal" fill="#231f20" textLength="8.42" lengthAdjust="spacingAndGlyphs"  stroke="#231f20" stroke-width="0.12">60</text>
<line x1="428.2" y1="264.3" x2="428.2" y2="266.9" stroke="#1a1a1a" stroke-width="1.0" />
<text x="428.2" y="276.3" font-size="8.8" text-anchor="middle" font-weight="normal" font-style="normal" fill="#231f20" textLength="8.42" lengthAdjust="spacingAndGlyphs"  stroke="#231f20" stroke-width="0.12">80</text>
<text x="340.2" y="288.4" font-size="10.8" text-anchor="start" font-weight="normal" font-style="normal" fill="#231f20" textLength="48.7" lengthAdjust="spacingAndGlyphs"  stroke="#231f20" stroke-width="0.12">Days from CAR</text>
<text transform="translate(270.7,222.7) rotate(-90)" font-size="9.8" text-anchor="middle" fill="#231f20" textLength="26.8" lengthAdjust="spacingAndGlyphs">Survival</text>
<text x="323.5" y="159.4" font-size="9.8" text-anchor="start" font-weight="normal" font-style="normal" fill="#231f20" textLength="78.4" lengthAdjust="spacingAndGlyphs" >Tumor rechallenge</text>
<line x1="360.7" y1="161.8" x2="360.7" y2="166.5" stroke="#000" stroke-width="1.0" />
<path d="M358.5,165.9 L363.1,165.9 L360.8,170.6 Z" fill="#000"/>
<line x1="360.6" y1="174.1" x2="360.6" y2="264.3" stroke="#333" stroke-width="1.1" stroke-dasharray="3.5 1.9"/>
<polyline points="317.00,182.35 394.60,182.35 394.60,202.75 421.40,202.75" fill="none" stroke="#cd1f47" stroke-width="1.4" stroke-linejoin="round" stroke-linecap="round" stroke-linecap="square"/>
<line x1="421.5" y1="200.9" x2="421.5" y2="202.8" stroke="#cd1f47" stroke-width="1.1" />
<polyline points="318.60,182.30 318.60,264.20" fill="none" stroke="#3fbd4b" stroke-width="1.2" stroke-linejoin="round" stroke-linecap="round" />
<polyline points="318.40,202.80 318.40,223.30 320.20,223.30 320.20,264.20" fill="none" stroke="#23609f" stroke-width="1.2" stroke-linejoin="round" stroke-linecap="round" />
<polyline points="293.00,182.30 317.10,182.30 317.10,223.30 318.20,223.30 318.20,264.20" fill="none" stroke="#5c2a85" stroke-width="1.2" stroke-linejoin="round" stroke-linecap="round" />
<text x="438.8" y="189.5" font-size="8.3" text-anchor="start" font-weight="normal" font-style="normal" fill="#231f20" textLength="36.2" lengthAdjust="spacingAndGlyphs" >p = 0.0032</text>
<text x="474.4" y="211.5" font-size="8.2" text-anchor="start" font-weight="normal" font-style="normal" fill="#231f20" textLength="32.0" lengthAdjust="spacingAndGlyphs" >OS (days)</text>
<line x1="426.9" y1="222.3" x2="435.2" y2="222.3" stroke="#5c2a85" stroke-width="1.25" />
<circle cx="431.00" cy="222.10" r="0.9" fill="#5c2a85"/>
<text x="438.6" y="224.8" font-size="8.8" text-anchor="start" font-weight="normal" font-style="normal" fill="#5c2a85" textLength="33.4" lengthAdjust="spacingAndGlyphs" >Untreated</text>
<text x="482.7" y="224.8" font-size="8.6" text-anchor="start" font-weight="normal" font-style="normal" fill="#231f20" textLength="14.0" lengthAdjust="spacingAndGlyphs" >14.5</text>
<line x1="426.9" y1="230.8" x2="435.2" y2="230.8" stroke="#23609f" stroke-width="1.25" />
<circle cx="431.00" cy="230.60" r="0.9" fill="#23609f"/>
<text x="438.6" y="233.9" font-size="8.8" text-anchor="start" font-weight="normal" font-style="normal" fill="#23609f" textLength="9.2" lengthAdjust="spacingAndGlyphs" >NT</text>
<text x="482.7" y="233.9" font-size="8.6" text-anchor="start" font-weight="normal" font-style="normal" fill="#231f20" textLength="14.0" lengthAdjust="spacingAndGlyphs" >15.5</text>
<line x1="426.9" y1="240.5" x2="435.2" y2="240.5" stroke="#3fbd4b" stroke-width="1.25" />
<circle cx="431.00" cy="240.30" r="0.9" fill="#3fbd4b"/>
<text x="438.6" y="242.9" font-size="8.8" text-anchor="start" font-weight="normal" font-style="normal" fill="#3fbd4b" textLength="22.8" lengthAdjust="spacingAndGlyphs" >CAR19</text>
<text x="482.7" y="242.9" font-size="8.6" text-anchor="start" font-weight="normal" font-style="normal" fill="#231f20" textLength="14.0" lengthAdjust="spacingAndGlyphs" >15.5</text>
<line x1="426.9" y1="250.4" x2="435.2" y2="250.4" stroke="#c8102e" stroke-width="1.25" />
<circle cx="431.00" cy="250.20" r="0.9" fill="#c8102e"/>
<text x="438.6" y="253.4" font-size="8.8" text-anchor="start" font-weight="normal" font-style="normal" fill="#c8102e" textLength="34.2" lengthAdjust="spacingAndGlyphs" >CARCCR9</text>
<text x="484.4" y="253.4" font-size="8.4" text-anchor="start" font-weight="normal" font-style="normal" fill="#231f20" textLength="10.2" lengthAdjust="spacingAndGlyphs" >NR</text>
</svg></body></html>
